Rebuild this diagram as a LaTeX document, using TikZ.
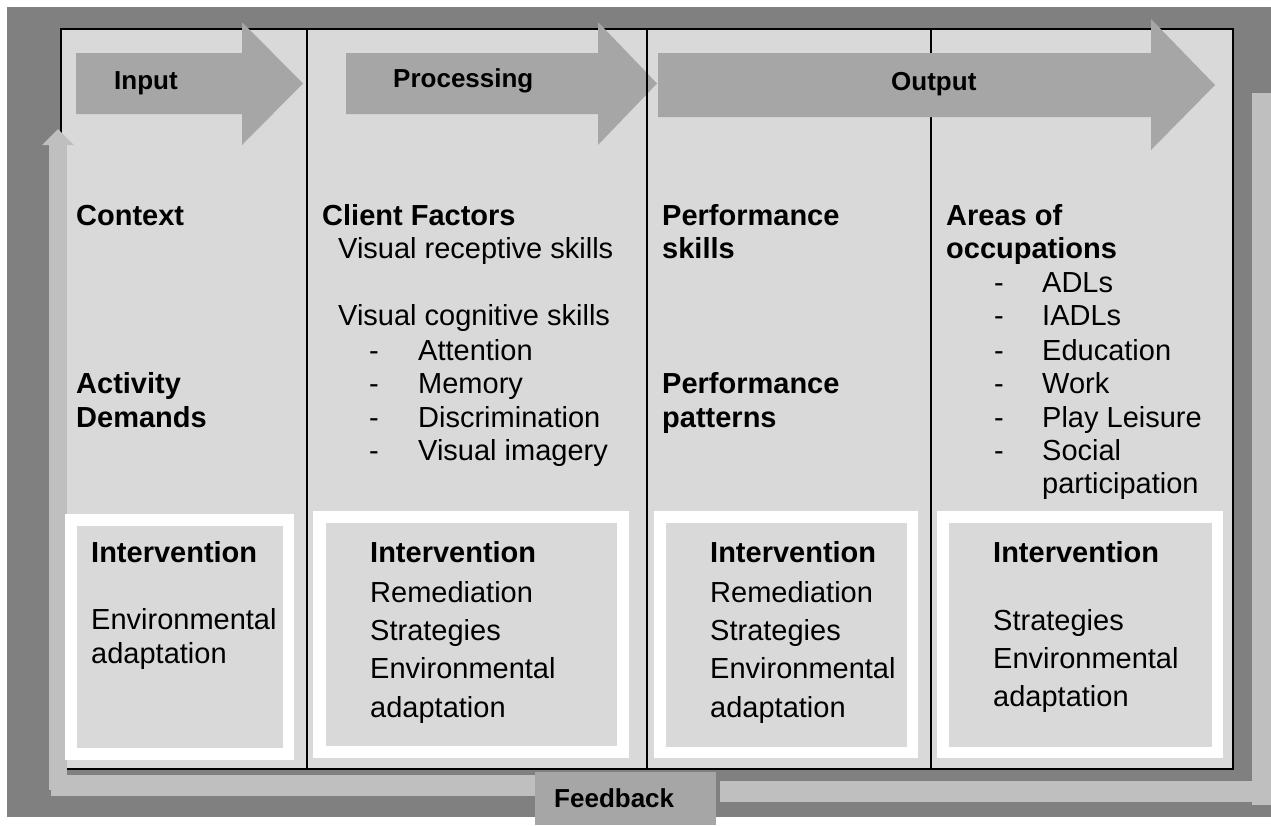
\documentclass[tikz,border=0pt]{standalone}
\usepackage{fontspec}
\setmainfont{Liberation Sans}
\definecolor{framegray}{HTML}{808080}
\definecolor{cellgray}{HTML}{D9D9D9}
\definecolor{bandgray}{HTML}{A6A6A6}
\definecolor{loopgray}{HTML}{BFBFBF}
\begin{document}
\begin{tikzpicture}[x=1pt,y=-1pt,
  body/.style={anchor=base west, inner sep=0pt, font=\fontsize{29}{34}\selectfont},
  bold/.style={anchor=base west, inner sep=0pt, font=\bfseries\fontsize{29}{34}\selectfont},
  tag/.style={anchor=base west, inner sep=0pt, font=\bfseries\fontsize{26}{30}\selectfont},
  rule/.style={line width=1.5pt, black},
  whitebox/.style={fill=white},
  innerbox/.style={fill=cellgray}]
\useasboundingbox (0,0) rectangle (1271,825);

% dark outer frame
\fill[framegray] (7,7) rectangle (1271,817);

% table body and rules
\fill[cellgray] (61,29) rectangle (1233,769);
\draw[rule] (61,29) rectangle (1233,769);
\draw[rule] (307,29) -- (307,769);
\draw[rule] (931,29) -- (931,769);

% stage arrows along the top
\fill[bandgray] (76,53) -- (242,53) -- (242,22) -- (303,83.5) -- (242,145) -- (242,114) -- (76,114) -- cycle;
\fill[bandgray] (346,53) -- (598,53) -- (598,22) -- (657,83.5) -- (598,145) -- (598,114) -- (346,114) -- cycle;
\draw[rule] (647,29) -- (647,769);
\fill[bandgray] (658,53) -- (1151,53) -- (1151,19) -- (1215,85) -- (1151,150) -- (1151,117) -- (658,117) -- cycle;

\node[tag] (input) at (114,89) {Input};
\node[tag] (processing) at (393,87) {Processing};
\node[tag] (output) at (891,90) {Output};

% feedback loop
\fill[loopgray] (49,145) rectangle (67,790);
\fill[loopgray] (42,145) -- (58,129) -- (74,145) -- cycle;
\fill[loopgray] (51,775) rectangle (535,796);
\fill[loopgray] (720,781) rectangle (1252,802);
\fill[loopgray] (1252,93) rectangle (1271,805);
\fill[bandgray] (535,772) rectangle (716,825);
\node[tag] (feedback) at (554,807) {Feedback};

% column 1
\node[bold] (context) at (76,225) {Context};
\node[bold] (activity) at (76,393) {Activity};
\node[bold] (demands) at (76,427) {Demands};

% column 2
\node[bold] (client) at (322,225) {Client Factors};
\node[body] (receptive) at (338,258) {Visual receptive skills};
\node[body] (cognitive) at (338,325) {Visual cognitive skills};
\foreach \t/\y [count=\i] in {Attention/360, Memory/393, Discrimination/427, Visual imagery/460} {
  \node[body] (cdash\i) at (369,\y) {-};
  \node[body] (citem\i) at (418,\y) {\t};
}

% column 3
\node[bold] (perf1) at (662,225) {Performance};
\node[bold] (skills) at (662,258) {skills};
\node[bold] (perf2) at (662,393) {Performance};
\node[bold] (patterns) at (662,427) {patterns};

% column 4
\node[bold] (areas) at (946,225) {Areas of};
\node[bold] (occup) at (946,258) {occupations};
\foreach \t/\y [count=\i] in {ADLs/292, IADLs/325, Education/360, Work/393, Play Leisure/427, Social/460} {
  \node[body] (odash\i) at (994,\y) {-};
  \node[body] (oitem\i) at (1042,\y) {\t};
}
\node[body] (particip) at (1042,493) {participation};

% intervention boxes
\fill[whitebox] (65,514) rectangle (294,760);
\fill[innerbox] (77,526) rectangle (283,748);
\node[bold] (int1) at (91,562) {Intervention};
\node[body] (env1) at (91,629) {Environmental};
\node[body] (ada1) at (91,663) {adaptation};

\fill[whitebox] (313,511) rectangle (629,758);
\fill[innerbox] (326,523) rectangle (617,746);
\node[bold] (int2) at (370,562) {Intervention};
\node[body] (rem2) at (370,602) {Remediation};
\node[body] (str2) at (370,640) {Strategies};
\node[body] (env2) at (370,678) {Environmental};
\node[body] (ada2) at (370,717) {adaptation};

\fill[whitebox] (654,511) rectangle (918,758);
\fill[innerbox] (666,523) rectangle (907,747);
\node[bold] (int3) at (710,562) {Intervention};
\node[body] (rem3) at (710,602) {Remediation};
\node[body] (str3) at (710,640) {Strategies};
\node[body] (env3) at (710,678) {Environmental};
\node[body] (ada3) at (710,717) {adaptation};

\fill[whitebox] (937,511) rectangle (1223,758);
\fill[innerbox] (949,523) rectangle (1212,747);
\node[bold] (int4) at (993,562) {Intervention};
\node[body] (str4) at (993,630) {Strategies};
\node[body] (env4) at (993,668) {Environmental};
\node[body] (ada4) at (993,706) {adaptation};
\end{tikzpicture}
\end{document}
